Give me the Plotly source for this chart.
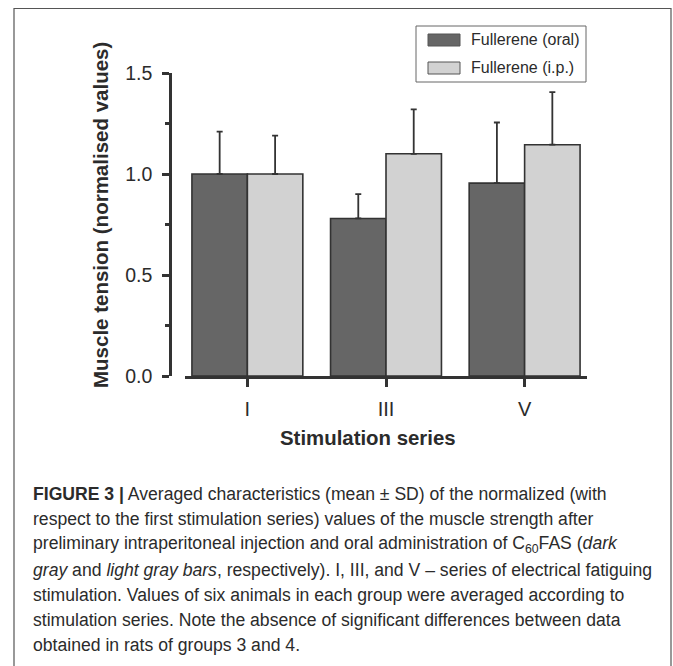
import plotly.graph_objects as go

# Stimulation series and normalised muscle tension (mean and SD)
series = ["I", "III", "V"]
oral_mean = [1.00, 0.78, 0.955]
oral_sd = [0.21, 0.12, 0.30]
ip_mean = [1.00, 1.10, 1.145]
ip_sd = [0.19, 0.22, 0.26]
legend_names = ["Fullerene (oral)", "Fullerene (i.p.)"]

caption_lines = [
    "<b>FIGURE 3 |</b> Averaged characteristics (mean \u00b1 SD) of the normalized (with",
    "respect to the first stimulation series) values of the muscle strength after",
    "preliminary intraperitoneal injection and oral administration of C<sub>60</sub>FAS (<i>dark</i>",
    "<i>gray</i> and <i>light gray bars</i>, respectively). I, III, and V \u2013 series of electrical fatiguing",
    "stimulation. Values of six animals in each group were averaged according to",
    "stimulation series. Note the absence of significant differences between data",
    "obtained in rats of groups 3 and 4.",
]

W, H = 673, 666
ML, MR, MT, MB = 170, 86, 73, 290
PW, PH = W - ML - MR, H - MT - MB

def px(x):
    return (x - ML) / PW

def py(y):
    return (H - MB - y) / PH

FONT = "Liberation Sans, Arial, sans-serif"
INK = "#2b2b2b"
DARK = "#666666"
LIGHT = "#d2d2d2"
EDGE = "#333333"

fig = go.Figure()
for name, mean, sd, color in [
    (legend_names[0], oral_mean, oral_sd, DARK),
    (legend_names[1], ip_mean, ip_sd, LIGHT),
]:
    fig.add_trace(go.Bar(
        x=series, y=mean, name=name,
        marker=dict(color=color, line=dict(color=EDGE, width=1.6)),
        error_y=dict(type="data", array=sd, arrayminus=[0] * len(sd), symmetric=False,
                     color=EDGE, thickness=1.8, width=3),
        showlegend=False,
    ))

fig.update_layout(
    width=W, height=H,
    margin=dict(l=ML, r=MR, t=MT, b=MB),
    paper_bgcolor="white", plot_bgcolor="white",
    barmode="group", bargap=0.2, bargroupgap=0,
    font=dict(family=FONT, color=INK),
    xaxis=dict(
        type="category", domain=[px(185), 1], range=[-0.45, 2.45],
        showline=True, linecolor=EDGE, linewidth=2.5,
        ticks="outside", ticklen=8, tickwidth=2.5, tickcolor=EDGE,
        tickfont=dict(size=20, family=FONT, color=INK),
        ticklabelstandoff=5, showgrid=False, zeroline=False,
    ),
    yaxis=dict(
        range=[0, 1.5], anchor="free", position=0,
        tickvals=[0, 0.5, 1.0, 1.5], tickformat=".1f",
        showline=True, linecolor=EDGE, linewidth=2.5,
        ticks="outside", ticklen=7, tickwidth=2.5, tickcolor=EDGE,
        tickfont=dict(size=19.5, family=FONT, color=INK),
        ticklabelstandoff=6,
        minor=dict(tickvals=[0.25, 0.75, 1.25], ticks="outside", ticklen=4,
                   tickwidth=2.5, tickcolor=EDGE),
        showgrid=False, zeroline=False,
    ),
)

shapes = [
    # outer frame of the figure panel
    dict(type="rect", xref="paper", yref="paper",
         x0=px(14), x1=px(671), y0=py(680), y1=py(8.5),
         line=dict(color="#555555", width=1.2), fillcolor="rgba(0,0,0,0)", layer="above"),
    # legend box
    dict(type="rect", xref="paper", yref="paper",
         x0=px(416), x1=px(586), y0=py(82), y1=py(26),
         line=dict(color="#666666", width=1), fillcolor="white"),
]
annotations = []
for i, (name, color) in enumerate(zip(legend_names, [DARK, LIGHT])):
    cy = 40 + 28 * i
    shapes.append(dict(type="rect", xref="paper", yref="paper",
                       x0=px(428), x1=px(460), y0=py(cy + 6), y1=py(cy - 6),
                       line=dict(color="#555555", width=1), fillcolor=color))
    annotations.append(dict(text=name, xref="paper", yref="paper", x=px(469), y=py(cy),
                            xanchor="left", yanchor="middle", showarrow=False,
                            font=dict(size=16, family=FONT, color=INK)))

annotations.append(dict(text="<b>Muscle tension (normalised values)</b>", xref="paper", yref="paper",
                        x=px(100), y=py(215), textangle=-90, showarrow=False,
                        xanchor="center", yanchor="middle",
                        font=dict(size=20.5, family=FONT, color=INK)))
annotations.append(dict(text="<b>Stimulation series</b>", xref="paper", yref="paper",
                        x=px(367.5), y=py(438), showarrow=False,
                        xanchor="center", yanchor="middle",
                        font=dict(size=20.4, family=FONT, color=INK)))

for k, line in enumerate(caption_lines):
    annotations.append(dict(text=line, xref="paper", yref="paper",
                            x=px(31), y=py(494 + 25.2 * k), showarrow=False,
                            xanchor="left", yanchor="middle", align="left",
                            font=dict(size=17.6, family=FONT, color=INK)))

fig.update_layout(shapes=shapes, annotations=annotations)
fig.write_html("out.html")
